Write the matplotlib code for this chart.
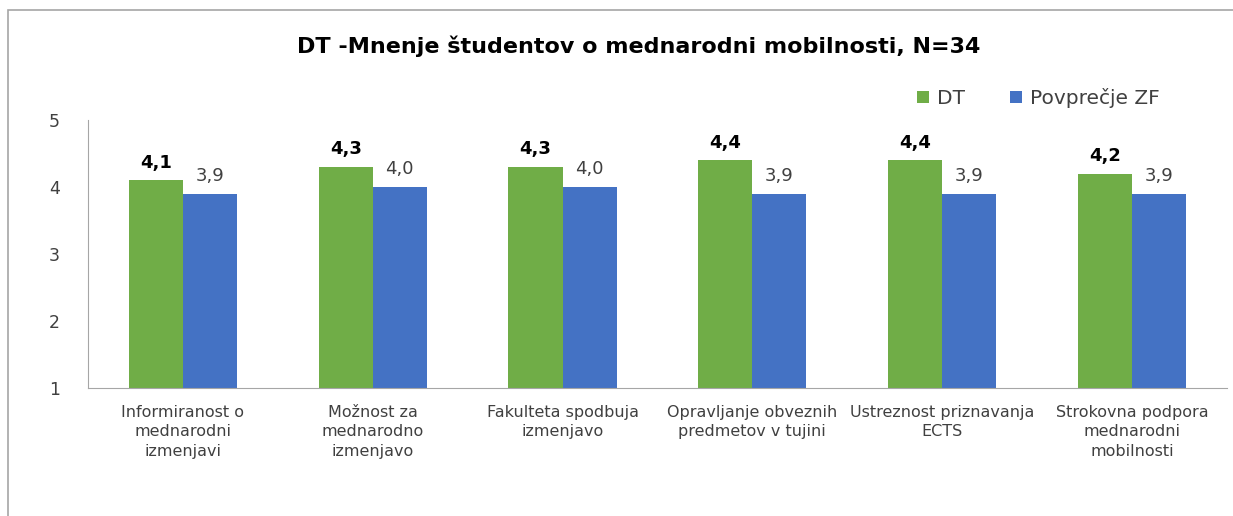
import matplotlib
matplotlib.use("Agg")
import matplotlib.pyplot as plt
import numpy as np
from matplotlib.patches import Rectangle

plt.rcParams['font.family'] = ['DejaVu Sans']

# Data
categories = ["Informiranost o\nmednarodni\nizmenjavi",
              "Možnost za\nmednarodno\nizmenjavo",
              "Fakulteta spodbuja\nizmenjavo",
              "Opravljanje obveznih\npredmetov v tujini",
              "Ustreznost priznavanja\nECTS",
              "Strokovna podpora\nmednarodni\nmobilnosti"]
dt_values = [4.1, 4.3, 4.3, 4.4, 4.4, 4.2]
zf_values = [3.9, 4.0, 4.0, 3.9, 3.9, 3.9]
series_names = ["DT", "Povprečje ZF"]

green = "#70AD47"
blue = "#4472C4"

fig = plt.figure(figsize=(12.33, 5.16), dpi=100)
ax = fig.add_axes([0.0714, 0.248, 0.9236, 0.519])

x = np.arange(len(categories))
w = 0.285
b1 = ax.bar(x - w / 2, np.array(dt_values) - 1, w, bottom=1, color=green, label=series_names[0])
b2 = ax.bar(x + w / 2, np.array(zf_values) - 1, w, bottom=1, color=blue, label=series_names[1])

# data labels
for xi, v in zip(x, dt_values):
    ax.text(xi - w / 2, v + 0.13, f"{v:.1f}".replace(".", ","), ha="center", va="bottom",
            fontsize=13, fontweight="bold", color="black")
for xi, v in zip(x, zf_values):
    ax.text(xi + w / 2, v + 0.13, f"{v:.1f}".replace(".", ","), ha="center", va="bottom",
            fontsize=13, color="#404040")

ax.set_xlim(-0.5, len(categories) - 0.5)
ax.set_ylim(1, 5)
ax.set_yticks([1, 2, 3, 4, 5])
ax.set_xticks(x)
ax.set_xticklabels(categories, color="#404040", linespacing=1.4)
ax.tick_params(axis="both", length=0, colors="#404040")
ax.tick_params(axis="x", labelsize=11.5, pad=12)
ax.tick_params(axis="y", labelsize=12.5, pad=28)
for lbl in ax.get_yticklabels():
    lbl.set_horizontalalignment("left")

for s in ["top", "right"]:
    ax.spines[s].set_visible(False)
ax.spines["left"].set_color("#A6A6A6")
ax.spines["bottom"].set_color("#A6A6A6")

fig.text(0.518, 0.91, "DT -Mnenje študentov o mednarodni mobilnosti, N=34",
         ha="center", va="center", fontsize=16, fontweight="bold", color="black")

fig.legend(handles=[b1, b2], labels=series_names, loc="center right",
           bbox_to_anchor=(0.955, 0.81), ncol=2, frameon=False, fontsize=14.5,
           handlelength=0.6, handleheight=0.6, columnspacing=2.2, handletextpad=0.4,
           labelcolor="#404040")

# chart area border
fig.patches.append(Rectangle((8 / 1233, -0.1), 1.2, 1 - 10 / 516 + 0.1,
                             transform=fig.transFigure, fill=False,
                             edgecolor="#A6A6A6", linewidth=1.2))

fig.savefig("out.png", dpi=100)
